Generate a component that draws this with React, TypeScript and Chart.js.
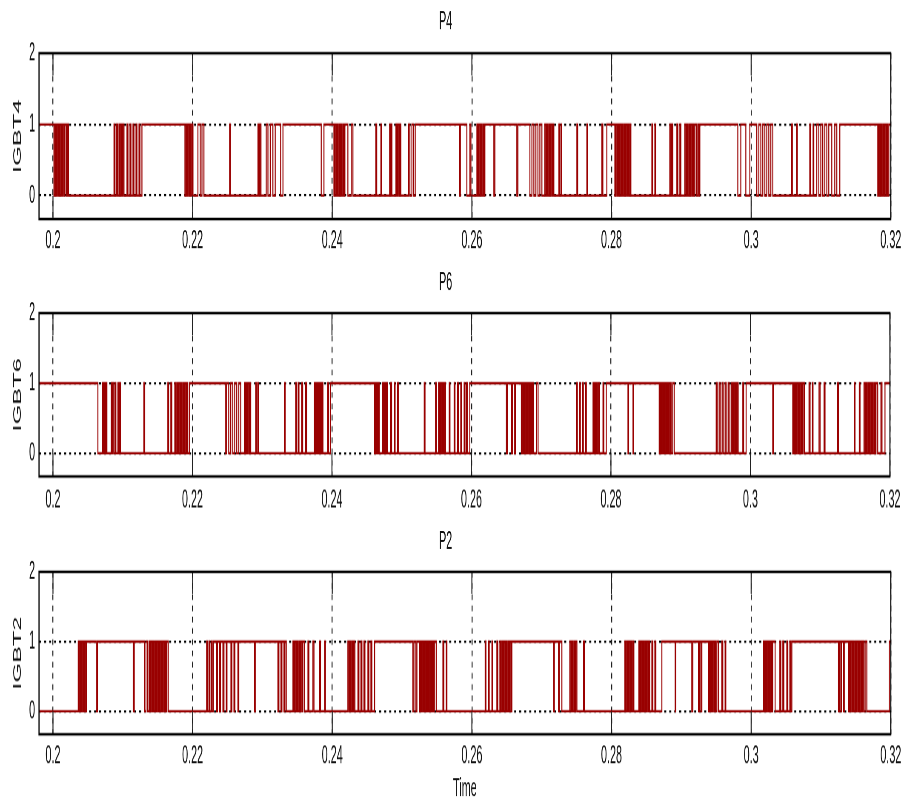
import React, { useEffect, useRef } from "react";
import { Chart, registerables } from "chart.js";

Chart.register(...registerables);

// ---------- data ----------
const xMin = 0.198;
const xMax = 0.32;
const xTicks = [0.2, 0.22, 0.24, 0.26, 0.28, 0.3, 0.32];
const xTickLabels = ["0.2", "0.22", "0.24", "0.26", "0.28", "0.3", "0.32"];
const yMin = -0.33;
const yMax = 2;
const yTicks = [0, 1, 2];
const panelTitles = ["P4", "P6", "P2"];
const yAxisLabels = ["IGBT4", "IGBT6", "IGBT2"];
const xAxisLabel = "Time";

// switching instants (s); the gate signal flips level at each one
const p4Start = 1;
const p4Toggles = [
  0.20014, 0.20029, 0.20043, 0.20057, 0.20072, 0.20086, 0.201, 0.20115, 0.20129, 0.20143, 0.20158, 0.20172,
  0.20193, 0.20208, 0.20222,
  0.20874, 0.20888, 0.20909, 0.20924, 0.20945, 0.20959, 0.20974, 0.20988, 0.21002, 0.21017,
  0.2106, 0.21074, 0.21103, 0.21117, 0.21146, 0.2116, 0.21189, 0.21203, 0.21232, 0.21246, 0.21274,
  0.2189, 0.21905, 0.21919, 0.21933, 0.21948, 0.21962, 0.21976, 0.21991, 0.22005,
  0.22076, 0.22109, 0.22134, 0.22162,
  0.2253, 0.22542,
  0.22936, 0.2295, 0.22964, 0.22979, 0.23054, 0.23079, 0.23112, 0.2315, 0.23183, 0.23261, 0.23294,
  0.23842, 0.23881,
  0.24024, 0.24038, 0.24053, 0.24067, 0.24081, 0.24096, 0.2411, 0.24124, 0.24138, 0.24153, 0.24167, 0.24181,
  0.24224, 0.24272, 0.24296,
  0.24625, 0.24637, 0.24697, 0.24708,
  0.24822, 0.24833, 0.24845, 0.24855, 0.24912, 0.24926, 0.2494, 0.24955, 0.24969, 0.24983,
  0.25094, 0.25112, 0.25141, 0.25162, 0.25188,
  0.25824, 0.25835, 0.25928, 0.25971, 0.25986,
  0.26072, 0.26086, 0.261, 0.26115, 0.26129, 0.26143, 0.26158, 0.26172, 0.26186,
  0.26315, 0.2633, 0.26644, 0.26659,
  0.26831, 0.2686, 0.26888, 0.26917, 0.26946, 0.26974, 0.27003,
  0.27045, 0.2706, 0.27074, 0.27088, 0.27103, 0.27117, 0.27131, 0.27146, 0.2716, 0.27174,
  0.27246, 0.27257, 0.27275, 0.27286, 0.27504, 0.27515, 0.27647, 0.27658,
  0.27862, 0.27876, 0.27933,
  0.28048, 0.28062, 0.28077, 0.28091, 0.28105, 0.28119, 0.28134, 0.28148, 0.28162, 0.28177, 0.28191, 0.28205,
  0.2822, 0.28234, 0.28248, 0.28263, 0.28277,
  0.28578, 0.28588, 0.28621, 0.28631,
  0.28835, 0.2885, 0.28864, 0.28878, 0.28936, 0.2895, 0.28979, 0.28993,
  0.2905, 0.29065, 0.29079, 0.29093, 0.29108, 0.29122, 0.29136, 0.29151, 0.29165, 0.29179, 0.29194, 0.29215,
  0.29236, 0.29251, 0.29265,
  0.29809, 0.29852, 0.29924, 0.29981,
  0.30081, 0.3011, 0.30139, 0.30167, 0.30196, 0.30224, 0.30253, 0.30282, 0.3031,
  0.30578, 0.3059, 0.3065, 0.30661, 0.3084, 0.30852, 0.30887, 0.30897,
  0.3094, 0.30969, 0.30998, 0.31026, 0.31055, 0.31084, 0.31112, 0.31155, 0.31198, 0.31227, 0.3127,
  0.31814, 0.31828, 0.31843, 0.31857, 0.31871, 0.31886, 0.319, 0.31914, 0.31929, 0.31943, 0.31957, 0.31972,
];

const p6Start = 1;
const p6Toggles = [
  0.20644, 0.20712, 0.20723, 0.2074, 0.20752, 0.20763, 0.20773,
  0.20835, 0.20845, 0.20859, 0.20874, 0.20892, 0.20902, 0.20931, 0.20942, 0.20955, 0.20967,
  0.21303, 0.21315,
  0.21647, 0.21658, 0.2169, 0.21704, 0.21747, 0.21761, 0.21776, 0.2179, 0.21804, 0.21819, 0.21833, 0.21847,
  0.21862, 0.21876, 0.2189, 0.21905, 0.21919, 0.21933, 0.21958,
  0.22477, 0.22492, 0.2252, 0.22549, 0.22578, 0.22606, 0.22635, 0.22664, 0.22692,
  0.22745, 0.22757, 0.22768, 0.22778, 0.22792, 0.22807, 0.22821, 0.22835,
  0.22907, 0.22918, 0.22936, 0.2295,
  0.23318, 0.23329,
  0.2348, 0.23494, 0.23516, 0.23527, 0.23566, 0.2358, 0.23623, 0.23637,
  0.23748, 0.23759, 0.23771, 0.23781, 0.23795, 0.23806, 0.23816, 0.23828, 0.23838, 0.23849, 0.23859, 0.23871,
  0.23938, 0.23952, 0.23981,
  0.24607, 0.24618, 0.2463, 0.2464, 0.24654, 0.24668, 0.24678,
  0.24726, 0.2474, 0.24754, 0.24769, 0.24783, 0.24797, 0.2484, 0.24855, 0.24893, 0.24905, 0.2494, 0.24955,
  0.25323, 0.25334,
  0.25485, 0.25499, 0.25528, 0.25542, 0.25556, 0.25571, 0.25585, 0.25599, 0.25614, 0.25628,
  0.25681, 0.25692, 0.25752, 0.25764, 0.258, 0.25814, 0.25847, 0.25857, 0.25895, 0.25907, 0.25928, 0.25943, 0.25976,
  0.26501, 0.26516, 0.26573, 0.26587, 0.2662, 0.2663,
  0.26716, 0.2673, 0.26745, 0.26759, 0.26773, 0.26788, 0.26802, 0.26816, 0.26831, 0.26845, 0.2686, 0.26874,
  0.26888, 0.26931, 0.26955,
  0.27504, 0.27518, 0.27547, 0.27561, 0.2759, 0.27604, 0.27633, 0.27647,
  0.27743, 0.27754, 0.27766, 0.27776, 0.2779, 0.27804, 0.27819, 0.27837, 0.27886, 0.27898, 0.27933,
  0.28244, 0.28253, 0.28316, 0.28325,
  0.28692, 0.28707, 0.28721, 0.28735, 0.2875, 0.28764, 0.28778, 0.28793, 0.28807, 0.28821, 0.28835, 0.2885,
  0.28864, 0.28886, 0.28907,
  0.29509, 0.29523, 0.29551, 0.29566, 0.29594, 0.29609, 0.29637, 0.29652, 0.2968, 0.29695,
  0.29723, 0.29738, 0.29752, 0.29766, 0.29781, 0.29795, 0.29809, 0.29824, 0.29891, 0.29902, 0.29938,
  0.3032, 0.30329,
  0.30607, 0.30618, 0.3063, 0.3064, 0.30654, 0.30668, 0.30683, 0.30697, 0.30711, 0.30726, 0.3074, 0.30754, 0.30773,
  0.3084, 0.30855, 0.30887, 0.30897, 0.30983, 0.30998, 0.31055, 0.31069,
  0.31251, 0.31263, 0.31489, 0.31499, 0.31561, 0.31571,
  0.31628, 0.31643, 0.31657, 0.31671, 0.31686, 0.317, 0.31714, 0.31729, 0.31743, 0.31757, 0.31772, 0.31786,
  0.318, 0.31825, 0.31871, 0.31886, 0.31929,
];

const p2Start = 0;
const p2Toggles = [
  0.20362, 0.20379, 0.20394, 0.20408, 0.20422, 0.20437, 0.20451, 0.20465, 0.2048,
  0.2062, 0.20637, 0.2115, 0.21164,
  0.21313, 0.21332, 0.21353, 0.21375, 0.21389, 0.21403, 0.21418, 0.21432, 0.21446, 0.21461, 0.21475, 0.21489,
  0.21504, 0.21518, 0.21532, 0.21547, 0.21561, 0.21575, 0.2159, 0.21604, 0.21618, 0.21632, 0.21651,
  0.22201, 0.22212, 0.22234, 0.22248, 0.2227, 0.22281, 0.22298,
  0.22344, 0.22356, 0.22387, 0.22399, 0.22434, 0.22449, 0.22482, 0.22492, 0.22549, 0.22563, 0.22592, 0.22606,
  0.22649, 0.22661, 0.22888, 0.22897,
  0.23222, 0.23236, 0.23265, 0.23279, 0.23308, 0.23322, 0.23341,
  0.23437, 0.23451, 0.23465, 0.2348, 0.23494, 0.23508, 0.23523, 0.23537, 0.23551, 0.23566, 0.2358, 0.23604,
  0.23652, 0.23666, 0.23723, 0.23738, 0.23819, 0.23831, 0.23891, 0.23902,
  0.24224, 0.24239, 0.24253, 0.24267, 0.24282, 0.24296, 0.2431, 0.24325, 0.24368, 0.24382, 0.24411, 0.24425,
  0.24454, 0.24468, 0.24511, 0.24525, 0.24554, 0.24568, 0.24607,
  0.25155, 0.2517, 0.25198, 0.25213, 0.25251, 0.25263, 0.25277, 0.25291, 0.25306, 0.2532, 0.25334, 0.25349,
  0.25363, 0.25377, 0.25391, 0.25406, 0.2542, 0.25434, 0.25449, 0.25463, 0.25489,
  0.25585, 0.25599, 0.25632, 0.25642,
  0.26191, 0.26201, 0.26239, 0.26248, 0.26287, 0.26297,
  0.26358, 0.26372, 0.26401, 0.26415, 0.2643, 0.26444, 0.26458, 0.26473, 0.26487, 0.26501, 0.26516, 0.2653,
  0.26544, 0.26559, 0.26573,
  0.2717, 0.27181, 0.27241, 0.27253, 0.27289,
  0.27403, 0.27418, 0.27432, 0.27446, 0.27461, 0.27475, 0.27489, 0.27504, 0.276, 0.27611,
  0.28191, 0.28205, 0.2822, 0.28234, 0.28248, 0.28263, 0.28277, 0.28291, 0.28306, 0.2832,
  0.28392, 0.28406, 0.2842, 0.28435, 0.28449, 0.28463, 0.28478, 0.28492, 0.28506, 0.28521, 0.28535, 0.28549,
  0.28578, 0.28592, 0.28621, 0.28635, 0.28721,
  0.28911, 0.28921, 0.2915, 0.29165, 0.29246, 0.29258, 0.29279, 0.29294,
  0.2939, 0.29401, 0.29413, 0.29423, 0.29437, 0.29451, 0.29466, 0.2948, 0.29494, 0.29509, 0.29533,
  0.2958, 0.29594, 0.29627, 0.29637,
  0.30177, 0.30189, 0.302, 0.3021, 0.30224, 0.30239, 0.30253, 0.30267, 0.30282, 0.30296, 0.3031, 0.30343,
  0.30411, 0.30425, 0.30454, 0.30468, 0.30511, 0.30525, 0.30554, 0.30568, 0.30583,
  0.31251, 0.31263, 0.31284, 0.31298, 0.31323, 0.31334,
  0.31394, 0.31406, 0.31417, 0.31427, 0.31442, 0.31456, 0.3147, 0.31485, 0.31499, 0.31513, 0.31528, 0.31542,
  0.31556, 0.31571, 0.31585, 0.31599, 0.31614, 0.31632, 0.31657,
  0.31979,
];

const signals = [
  { start: p4Start, toggles: p4Toggles },
  { start: p6Start, toggles: p6Toggles },
  { start: p2Start, toggles: p2Toggles },
];

// ---------- look ----------
const K = 2.35; // vertical stretch of the picture
const FONT = "'Liberation Sans', Arial, sans-serif";
const FS = 10.8;
const LH = FS * 1.2;
const RED = "#990000";

const panels = [
  { top: 0, height: 262, titleY: 22, areaTop: 53, areaBottom: 218, tickY: 240 },
  { top: 262, height: 258, titleY: 283, areaTop: 313, areaBottom: 476, tickY: 500 },
  { top: 520, height: 290, titleY: 542, areaTop: 572, areaBottom: 735, tickY: 757, xTitleY: 790 },
];

function buildPoints(start: number, toggles: number[]) {
  const pts: { x: number; y: number }[] = [{ x: xMin, y: start }];
  let v = start;
  for (const t of toggles) {
    v = 1 - v;
    pts.push({ x: t, y: v });
  }
  pts.push({ x: xMax, y: v });
  return pts;
}

const framePlugin = {
  id: "frame",
  afterDraw(chart: any) {
    const { ctx, chartArea, scales } = chart;
    const { left, right, top, bottom } = chartArea;
    ctx.save();
    // solid stubs of the vertical grid near the top edge and below zero
    ctx.strokeStyle = "#222";
    ctx.lineWidth = 1;
    const y0 = scales.y.getPixelForValue(0);
    for (const v of xTicks) {
      const px = scales.x.getPixelForValue(v);
      ctx.beginPath();
      ctx.moveTo(px, top);
      ctx.lineTo(px, top + 22 / K);
      ctx.moveTo(px, y0);
      ctx.lineTo(px, bottom);
      ctx.stroke();
    }
    ctx.strokeStyle = "#000";
    ctx.lineWidth = 1.1;
    ctx.strokeRect(left, top, right - left, bottom - top);
    ctx.restore();
  },
};

function Panel({ idx }: { idx: number }) {
  const ref = useRef<HTMLCanvasElement | null>(null);
  const p = panels[idx];
  const hc = p.height / K;
  const tc = (p.titleY - p.top) / K;
  const at = (p.areaTop - p.top) / K;
  const ab = (p.areaBottom - p.top) / K;
  const tk = (p.tickY - p.top) / K;

  useEffect(() => {
    if (!ref.current) return;
    const font = { family: FONT, size: FS, weight: "normal" as const, lineHeight: 1.2 };
    const sig = signals[idx];
    const xTitle = p.xTitleY
      ? {
          display: true,
          text: xAxisLabel,
          color: "#111",
          font,
          padding: { top: 0, bottom: hc - (p.xTitleY - p.top) / K - LH / 2 },
        }
      : { display: false };
    const chart = new Chart(ref.current, {
      type: "line",
      data: {
        datasets: [
          {
            data: buildPoints(sig.start, sig.toggles),
            stepped: true,
            borderColor: RED,
            borderWidth: 1,
            pointRadius: 0,
            fill: false,
          },
        ],
      },
      options: {
        animation: false,
        responsive: true,
        maintainAspectRatio: false,
        devicePixelRatio: K,
        layout: { padding: { left: 0, right: 13, top: 0, bottom: 0 } },
        plugins: {
          legend: { display: false },
          tooltip: { enabled: false },
          title: {
            display: true,
            text: panelTitles[idx],
            color: "#111",
            font,
            padding: { top: tc - LH / 2, bottom: at - tc - LH / 2 },
          },
        },
        scales: {
          x: {
            type: "linear",
            min: xMin,
            max: xMax,
            afterBuildTicks: (s: any) => {
              s.ticks = xTicks.map((v) => ({ value: v }));
            },
            afterFit: (s: any) => {
              s.height = hc - ab;
            },
            ticks: {
              autoSkip: false,
              maxRotation: 0,
              color: "#111",
              font,
              padding: tk - ab - LH / 2,
              callback: (v: any) => {
                const i = xTicks.findIndex((t) => Math.abs(t - Number(v)) < 1e-9);
                return i >= 0 ? xTickLabels[i] : "";
              },
            },
            grid: { drawTicks: false, color: "#222", lineWidth: 1 },
            border: { display: false, dash: [2.4, 2.4] },
            title: xTitle as any,
          },
          y: {
            min: yMin,
            max: yMax,
            afterBuildTicks: (s: any) => {
              s.ticks = yTicks.map((v) => ({ value: v }));
            },
            afterFit: (s: any) => {
              s.width = 39;
            },
            ticks: { color: "#111", font, padding: 4 },
            grid: {
              drawTicks: false,
              lineWidth: 1,
              color: (c: any) => (c.tick && c.tick.value === 2 ? "rgba(0,0,0,0)" : "#000"),
            },
            border: { display: false, dash: [2, 3] },
            title: {
              display: true,
              text: yAxisLabels[idx],
              color: "#111",
              font,
              padding: { top: 18 - LH / 2, bottom: 0 },
            },
          },
        },
      },
      plugins: [framePlugin],
    } as any);
    return () => chart.destroy();
  }, [idx]);

  return (
    <div
      style={{
        position: "absolute",
        left: 0,
        top: p.top,
        width: 904,
        height: hc,
        transform: `scaleY(${K})`,
        transformOrigin: "0 0",
      }}
    >
      <canvas ref={ref} />
    </div>
  );
}

export default function App() {
  return (
    <div
      style={{
        position: "absolute",
        left: 0,
        top: 0,
        width: 904,
        height: 802,
        overflow: "hidden",
        background: "#fff",
      }}
    >
      <Panel idx={0} />
      <Panel idx={1} />
      <Panel idx={2} />
    </div>
  );
}
